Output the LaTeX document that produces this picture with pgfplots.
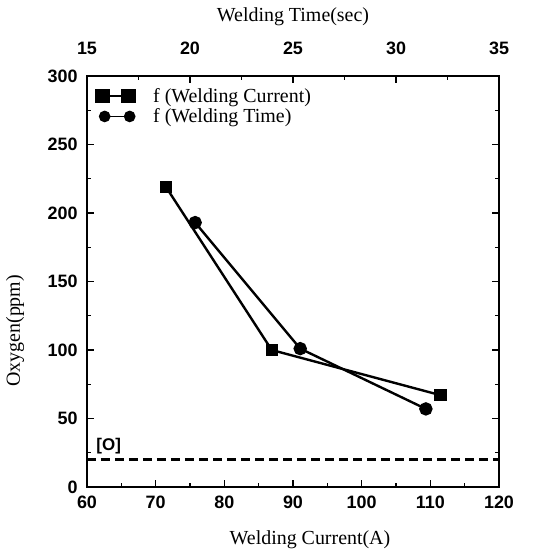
\documentclass[border=0pt]{standalone}
\usepackage{fontspec}
\setmainfont{Liberation Serif}
\setsansfont{Liberation Sans}
\usepackage{pgfplots}
\pgfplotsset{compat=1.18}
\pgfplotsset{
  oxy/.style={
    scale only axis, width=412bp, height=411bp,
    ymin=0, ymax=300,
    tick label style={font=\fontsize{18}{18}\selectfont\sffamily\bfseries},
    /pgf/number format/assume math mode=true,
    label style={font=\fontsize{20}{22}\selectfont},
    axis line style={line width=1.6bp},
    tick align=inside, major tick length=7bp, minor tick length=4bp,
    every tick/.style={black, line width=1.2bp},
  },
  sqlegend/.style={legend image code/.code={\draw[##1, mark size=6.5bp, line width=1.6bp] plot coordinates {(0bp,0bp) (26bp,0bp)};}},
  cirlegend/.style={legend image code/.code={\draw[##1, line width=1.6bp] plot coordinates {(2bp,0bp) (27bp,0bp)};}},
}
\begin{document}
\begin{tikzpicture}
% bottom axis: welding current
\begin{axis}[oxy, name=ax,
  xmin=60, xmax=120,
  xtick={60,70,...,120}, minor x tick num=1, xtick pos=bottom,
  ytick={0,50,...,300}, minor y tick num=1,
  xticklabel style={yshift=-5bp},
  yticklabel style={xshift=-6bp},
  xlabel={Welding Current(A)}, ylabel={Oxygen(ppm)},
  xlabel style={at={(axis description cs:0.5,0)}, anchor=center, xshift=17bp, yshift=-53bp},
  ylabel style={at={(axis description cs:0,0.38)}, anchor=center, yshift=72bp},
  legend style={draw=none, fill=none, at={(0,1)}, anchor=north west,
    xshift=6bp, yshift=-8bp, font=\fontsize{20}{22}\selectfont,
    row sep=1bp},
  legend cell align=left,
]
\addplot[black, line width=2.4bp, mark=square*, mark size=5bp, sqlegend]
  coordinates {(71.5,219) (86.9,100) (111.5,67)};
\addlegendentry{\hspace{16bp}f (Welding Current)}
\addlegendimage{black, mark=*, mark size=5bp, cirlegend}
\addlegendentry{\hspace{16bp}f (Welding Time)}
\addplot[black, line width=2.4bp, dash pattern=on 9bp off 5bp] coordinates {(60,20) (120,20)};
\node[font=\fontsize{17}{17}\selectfont\sffamily\bfseries, anchor=south west, inner sep=1bp] at (axis cs:61.2,23) {[O]};
\end{axis}
% top axis: welding time
\begin{axis}[oxy,
  xmin=15, xmax=35,
  axis x line*=top, axis y line=none,
  xtick={15,20,...,35}, minor x tick num=1,
  xticklabel style={yshift=18bp},
  xlabel={Welding Time(sec)},
  xlabel style={at={(axis description cs:0.5,1)}, anchor=center, yshift=59bp},
]
\addplot[black, line width=2.4bp, mark=*, mark size=5.5bp]
  coordinates {(20.25,193) (25.35,101) (31.45,57)};
\end{axis}
\path ([xshift=-87bp,yshift=-72bp]ax.south west) ([xshift=36bp,yshift=76bp]ax.north east);
\end{tikzpicture}
\end{document}
